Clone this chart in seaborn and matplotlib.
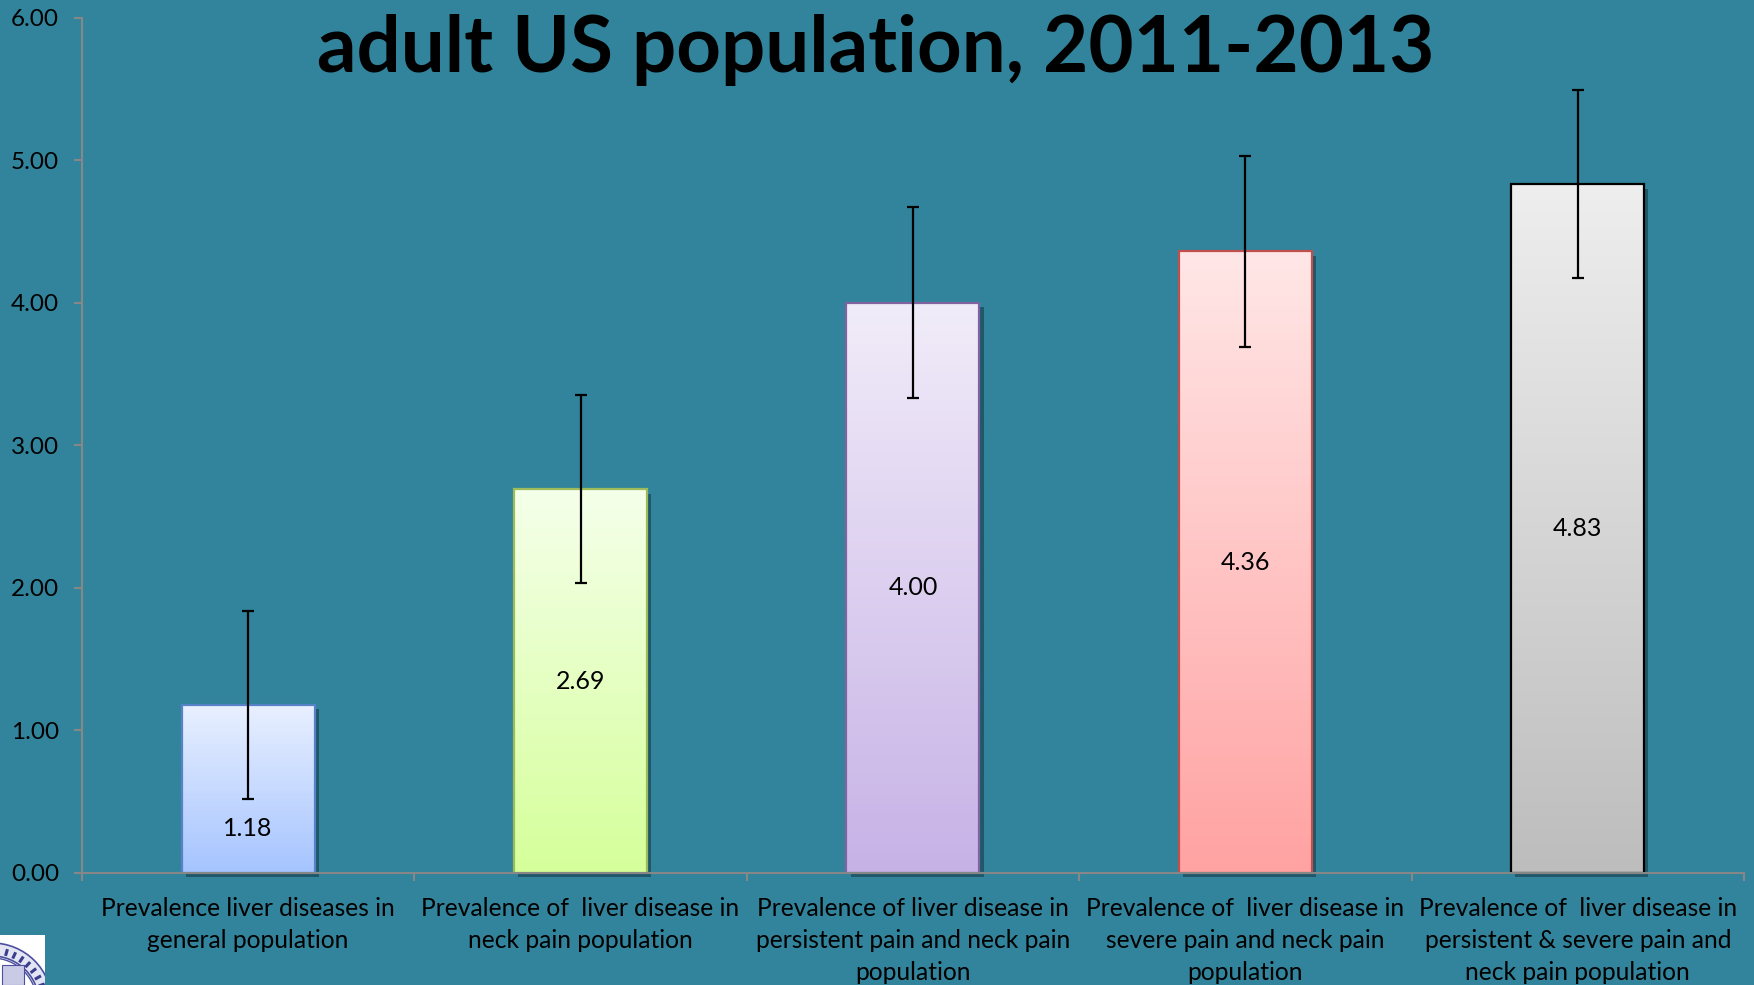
import numpy as np
import pandas as pd
import matplotlib
matplotlib.use("Agg")
import matplotlib.pyplot as plt
import matplotlib.patheffects as pe
from matplotlib.patches import Rectangle, Circle, Wedge
from matplotlib.colors import LinearSegmentedColormap
import seaborn as sns

# ---- data -------------------------------------------------------------
categories = [
    "Prevalence liver diseases in\ngeneral population",
    "Prevalence of  liver disease in\nneck pain population",
    "Prevalence of liver disease in\npersistent pain and neck pain\npopulation",
    "Prevalence of  liver disease in\nsevere pain and neck pain\npopulation",
    "Prevalence of  liver disease in\npersistent & severe pain and\nneck pain population",
]
prevalence = [1.18, 2.69, 4.00, 4.36, 4.83]
ci_halfwidth = [0.66, 0.66, 0.67, 0.67, 0.66]
ytick_values = [0, 1, 2, 3, 4, 5, 6]
title_text = "adult US population, 2011-2013"

# ---- styling ----------------------------------------------------------
BG = "#31849B"
AXIS_GREY = "#878787"
top_colors = ["#E9F0FF", "#F5FFEA", "#F1ECF9", "#FFE7E7", "#EEEEEE"]
bottom_colors = ["#A5C4FF", "#D5FF9A", "#C7B2E6", "#FFA2A2", "#BDBDBD"]
edge_colors = ["#5682C8", "#9DBB5A", "#8064A2", "#C0504D", "#000000"]

sns.set_theme(style="white")
plt.rcParams["font.family"] = ["Lato", "DejaVu Sans"]

fig = plt.figure(figsize=(17.54, 9.85), dpi=100, facecolor=BG)
ax = fig.add_axes([0.0467, 0.114, 0.9476, 0.868])
ax.set_facecolor(BG)

df = pd.DataFrame({"category": categories, "prevalence": prevalence})
sns.barplot(data=df, x="category", y="prevalence", order=categories,
            width=0.4, errorbar=None, color="white", ax=ax, zorder=2)

# gradient fill, drop shadow and outline for every bar
grad = np.linspace(0, 1, 256).reshape(-1, 1)
for i, bar in enumerate(ax.patches):
    x0, y0 = bar.get_x(), bar.get_y()
    w, h = bar.get_width(), bar.get_height()
    bar.set_facecolor(bottom_colors[i])
    bar.set_edgecolor("none")
    bar.set_clip_on(False)
    bar.set_path_effects([
        pe.SimplePatchShadow(offset=(3, -3), shadow_rgbFace="#123440", alpha=0.55),
        pe.Normal(),
    ])
    cmap = LinearSegmentedColormap.from_list(f"bar{i}", [bottom_colors[i], top_colors[i]])
    im = ax.imshow(grad, extent=(x0, x0 + w, y0, y0 + h), origin="lower",
                   cmap=cmap, aspect="auto", interpolation="bilinear", zorder=2.1)
    im.set_clip_path(bar)
    ax.add_patch(Rectangle((x0, y0), w, h, fill=False, edgecolor=edge_colors[i],
                           lw=1.6, zorder=2.2))

# confidence intervals
ax.errorbar(np.arange(len(prevalence)), prevalence, yerr=ci_halfwidth, fmt="none",
            ecolor="black", elinewidth=1.6, capsize=4.5, capthick=1.6, zorder=4)

# value labels inside the bars
for i, (v, e) in enumerate(zip(prevalence, ci_halfwidth)):
    y_lab = v / 2 if v - e > v / 2 + 0.35 else (v - e) / 2 + 0.05
    ax.text(i, y_lab, f"{v:.2f}", ha="center", va="center", fontsize=18,
            color="black", zorder=5)

ax.set_xlim(-0.5, len(categories) - 0.5)
ax.set_ylim(0, 6)
ax.set_xlabel("")
ax.set_ylabel("")

ax.set_yticks(ytick_values)
ax.set_yticklabels([f"{t:.2f}" for t in ytick_values])
ax.tick_params(axis="y", left=True, length=5.5, width=1.5, color=AXIS_GREY,
               pad=11, labelsize=17.5, labelcolor="black")

ax.set_xticks(np.arange(len(categories)))
ax.set_xticklabels(categories, fontsize=17.7, color="black", linespacing=1.47)
ax.set_xticks(np.arange(-0.5, len(categories)), minor=True)
ax.tick_params(axis="x", which="major", bottom=False, length=0, pad=17.5)
ax.tick_params(axis="x", which="minor", bottom=True, length=6, width=1.5,
               color=AXIS_GREY)

for side in ("top", "right"):
    ax.spines[side].set_visible(False)
for side in ("left", "bottom"):
    ax.spines[side].set_color(AXIS_GREY)
    ax.spines[side].set_linewidth(1.5)
    ax.spines[side].set_zorder(3)

# title, fitted to its width across the top of the slide
title = fig.text(0.499, 0.927, title_text, ha="center", va="baseline",
                 fontsize=52, fontweight="bold", color="black")
fig.canvas.draw()
tw = title.get_window_extent().width
title.set_fontsize(52 * 1117 / tw)

# university seal in the lower-left corner
logo = fig.add_axes([0, 0, 45 / 1754, 50 / 985])
logo.set_xlim(0, 45)
logo.set_ylim(0, 50)
logo.set_facecolor("white")
logo.set_xticks([])
logo.set_yticks([])
for s in logo.spines.values():
    s.set_visible(False)
seal_c = (-8, -18)
logo.add_patch(Wedge(seal_c, 60, 0, 90, width=13, facecolor="#E4E5F4",
                     edgecolor="#4B4F9E", lw=1.2))
logo.add_patch(Circle(seal_c, 45, fill=False, edgecolor="#4B4F9E", lw=1.0))
logo.add_patch(Rectangle((2, 0), 22, 20, facecolor="#C9CBE6", edgecolor="#4B4F9E", lw=0.8))
for ang in np.deg2rad(np.arange(20, 96, 9)):
    r0, r1 = 49, 56
    logo.plot([seal_c[0] + r0 * np.cos(ang), seal_c[0] + r1 * np.cos(ang)],
              [seal_c[1] + r0 * np.sin(ang), seal_c[1] + r1 * np.sin(ang)],
              color="#3A3E8C", lw=2.2, solid_capstyle="butt")

fig.savefig("out.png", dpi=100, facecolor=BG)
